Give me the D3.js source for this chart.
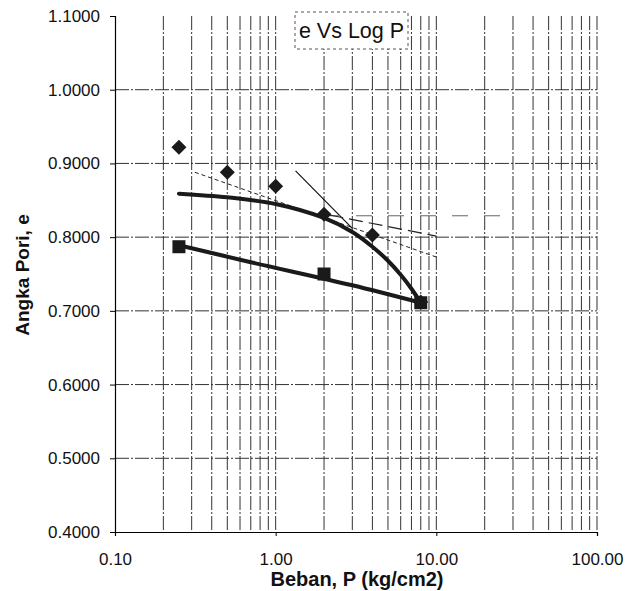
<!DOCTYPE html>
<html><head><meta charset="utf-8">
<script src="https://cdn.jsdelivr.net/npm/d3@7"></script>
<style>body{margin:0;background:#fff}svg{display:block}text{font-family:Arial,"Liberation Sans",sans-serif}</style>
</head><body>
<svg id="c" width="639" height="591"></svg>
<script>
// ---- data ----
const loadP = [0.25, 0.5, 1, 2, 4, 8];
const loadE = [0.922, 0.888, 0.869, 0.831, 0.803, 0.712];
const unloadP = [8, 2, 0.25];
const unloadE = [0.711, 0.750, 0.787];
const fitLoadP = [0.25, 0.5, 1, 2, 3, 4, 5, 6, 7, 8];
const fitLoadE = [0.859, 0.854, 0.845, 0.826, 0.807, 0.787, 0.768, 0.749, 0.730, 0.711];
const fitUnloadP = [0.25, 0.7, 2.95, 8];
const fitUnloadE = [0.789, 0.766, 0.735, 0.711];
const tangentP = [0.314, 10], tangentE = [0.888, 0.773];
const steepP = [1.33, 3.0], steepE = [0.890, 0.812];
const horizP = [2.0, 29.6], horizE = [0.829, 0.829];
const bisectP = [2.16, 10], bisectE = [0.830, 0.8015];
const yTicks = [0.4, 0.5, 0.6, 0.7, 0.8, 0.9, 1.0, 1.1];
const xTicks = [0.1, 1, 10, 100];
const titleText = "e Vs Log P";
const xTitle = "Beban, P (kg/cm2)";
const yTitle = "Angka Pori, e";

const svg = d3.select("#c");
const x = d3.scaleLog().domain([0.1, 100]).range([115, 597]);
const y = d3.scaleLinear().domain([0.4, 1.1]).range([532, 16]);

// minor/major vertical grid
const vgrid = [];
[0.1, 1, 10].forEach(d => { for (let k = 1; k <= 9; k++) vgrid.push(d * k); });
vgrid.push(100);
svg.append("g").selectAll("line").data(vgrid.filter(v => v > 0.1)).join("line")
  .attr("x1", d => x(d)).attr("x2", d => x(d)).attr("y1", y(1.1)).attr("y2", y(0.4))
  .attr("stroke", "#333").attr("stroke-width", 1).attr("stroke-dasharray", "14,2,2,2");
svg.append("g").selectAll("line").data(yTicks.filter(v => v > 0.4 && v < 1.1)).join("line")
  .attr("x1", x(0.1)).attr("x2", x(100)).attr("y1", d => y(d)).attr("y2", d => y(d))
  .attr("stroke", "#333").attr("stroke-width", 1).attr("stroke-dasharray", "14,2,2,2");

// axes
const yAxis = d3.axisLeft(y).tickValues(yTicks).tickFormat(d3.format(".4f")).tickSize(5).tickPadding(10);
const gy = svg.append("g").attr("transform", `translate(${x(0.1)},0)`).call(yAxis);
gy.select(".domain").attr("stroke", "#000").attr("stroke-width", 1.2);
gy.selectAll("text").attr("font-size", 17).attr("fill", "#111");
const xAxis = d3.axisBottom(x).tickValues(xTicks).tickFormat(d3.format(".2f")).tickSize(4).tickPadding(17);
const gx = svg.append("g").attr("transform", `translate(0,${y(0.4)})`).call(xAxis);
gx.select(".domain").attr("stroke", "#000").attr("stroke-width", 1.2);
gx.selectAll("text").attr("font-size", 17).attr("fill", "#111");

// construction lines
const line = d3.line().x(d => x(d[0])).y(d => y(d[1]));
svg.append("path").attr("d", line(d3.zip(tangentP, tangentE))).attr("fill", "none")
  .attr("stroke", "#222").attr("stroke-width", 1).attr("stroke-dasharray", "4,3");
svg.append("path").attr("d", line(d3.zip(steepP, steepE))).attr("fill", "none")
  .attr("stroke", "#111").attr("stroke-width", 1.2);
svg.append("path").attr("d", line(d3.zip(horizP, horizE))).attr("fill", "none")
  .attr("stroke", "#666").attr("stroke-width", 1).attr("stroke-dasharray", "16,16");
svg.append("path").attr("d", line(d3.zip(bisectP, bisectE))).attr("fill", "none")
  .attr("stroke", "#222").attr("stroke-width", 1.2).attr("stroke-dasharray", "14,6");

// fitted curves
const curve = d3.line().x(d => x(d[0])).y(d => y(d[1])).curve(d3.curveCatmullRom);
svg.append("path").attr("d", curve(d3.zip(fitLoadP, fitLoadE))).attr("fill", "none")
  .attr("stroke", "#1a1a1a").attr("stroke-width", 4).attr("stroke-linecap", "round");
svg.append("path").attr("d", curve(d3.zip(fitUnloadP, fitUnloadE))).attr("fill", "none")
  .attr("stroke", "#1a1a1a").attr("stroke-width", 4).attr("stroke-linecap", "round");

// markers
svg.append("g").selectAll("path").data(d3.zip(loadP, loadE)).join("path")
  .attr("d", d3.symbol(d3.symbolSquare, 112)())
  .attr("transform", d => `translate(${x(d[0])},${y(d[1])}) rotate(45)`)
  .attr("fill", "#1a1a1a");
svg.append("g").selectAll("rect").data(d3.zip(unloadP, unloadE)).join("rect")
  .attr("x", d => x(d[0]) - 6.5).attr("y", d => y(d[1]) - 6.5)
  .attr("width", 13).attr("height", 13).attr("fill", "#1a1a1a");

// title box
svg.append("rect").attr("x", 295).attr("y", 12).attr("width", 113).attr("height", 37)
  .attr("fill", "#fff").attr("stroke", "#555").attr("stroke-dasharray", "3,3");
svg.append("text").attr("x", 351.5).attr("y", 38).attr("text-anchor", "middle")
  .attr("font-size", 21.5).attr("fill", "#111").text(titleText);

// axis titles
svg.append("text").attr("x", 357).attr("y", 586).attr("text-anchor", "middle")
  .attr("font-size", 20).attr("font-weight", "bold").attr("fill", "#111").text(xTitle);
svg.append("text").attr("transform", "translate(29,275) rotate(-90)").attr("text-anchor", "middle")
  .attr("font-size", 19).attr("font-weight", "bold").attr("fill", "#111").text(yTitle);
</script>
</body></html>
